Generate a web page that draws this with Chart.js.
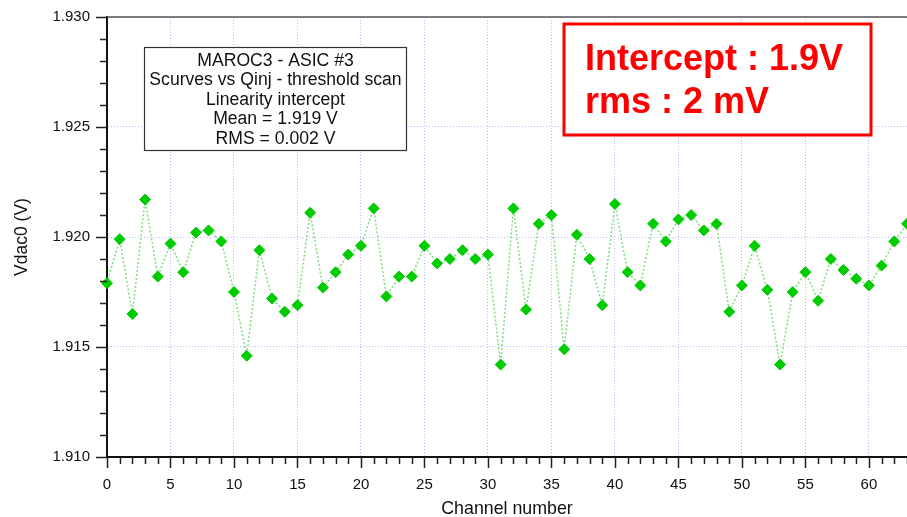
<!DOCTYPE html>
<html>
<head>
<meta charset="utf-8">
<script src="https://cdn.jsdelivr.net/npm/chart.js@4.4.0/dist/chart.umd.min.js"></script>
<style>
  html, body { margin: 0; padding: 0; background: #fff; }
  #wrap { width: 907px; height: 517px; }
</style>
</head>
<body>
<div id="wrap"><canvas id="scan"></canvas></div>
<script>
const channels = [0, 1, 2, 3, 4, 5, 6, 7, 8, 9, 10, 11, 12, 13, 14, 15,
    16, 17, 18, 19, 20, 21, 22, 23, 24, 25, 26, 27, 28, 29, 30, 31,
    32, 33, 34, 35, 36, 37, 38, 39, 40, 41, 42, 43, 44, 45, 46, 47,
    48, 49, 50, 51, 52, 53, 54, 55, 56, 57, 58, 59, 60, 61, 62, 63];
const vdac0 = [1.9179, 1.9199, 1.9165, 1.9217, 1.9182, 1.9197, 1.9184, 1.9202,
    1.9203, 1.9198, 1.9175, 1.9146, 1.9194, 1.9172, 1.9166, 1.9169,
    1.9211, 1.9177, 1.9184, 1.9192, 1.9196, 1.9213, 1.9173, 1.9182,
    1.9182, 1.9196, 1.9188, 1.9190, 1.9194, 1.9190, 1.9192, 1.9142,
    1.9213, 1.9167, 1.9206, 1.9210, 1.9149, 1.9201, 1.9190, 1.9169,
    1.9215, 1.9184, 1.9178, 1.9206, 1.9198, 1.9208, 1.9210, 1.9203,
    1.9206, 1.9166, 1.9178, 1.9196, 1.9176, 1.9142, 1.9175, 1.9184,
    1.9171, 1.9190, 1.9185, 1.9181, 1.9178, 1.9187, 1.9198, 1.9206];
const xTicks = [0, 5, 10, 15, 20, 25, 30, 35, 40, 45, 50, 55, 60];
const yTicks = [1.910, 1.915, 1.920, 1.925, 1.930];
const statLines = ['MAROC3 - ASIC #3', 'Scurves vs Qinj - threshold scan',
    'Linearity intercept', 'Mean = 1.919 V', 'RMS = 0.002 V'];
const summaryLines = ['Intercept : 1.9V', 'rms : 2 mV'];

const FONT = 'Arial, "Liberation Sans", sans-serif';

// no extra room for overhanging tick labels
function noPadding(scale) {
    scale.paddingLeft = 0;
    scale.paddingRight = 0;
    scale.paddingTop = 0;
    scale.paddingBottom = 0;
}

// axis frame, minor ticks and the two text boxes
const framePlugin = {
    id: 'frame',
    afterDraw(chart) {
        const ctx = chart.ctx;
        const a = chart.chartArea;
        const x = chart.scales.x, y = chart.scales.y;
        ctx.save();
        ctx.lineWidth = 1.5;
        // top frame line
        ctx.beginPath();
        ctx.moveTo(a.left, a.top);
        ctx.lineTo(a.right, a.top);
        ctx.strokeStyle = '#555';
        ctx.stroke();
        ctx.strokeStyle = '#222';
        // x ticks, one per channel, longer every 5
        ctx.beginPath();
        for (let c = 0; c <= 63; c++) {
            const px = Math.round(x.getPixelForValue(c)) + 0.5;
            const len = c % 5 === 0 ? 11 : 7;
            ctx.moveTo(px, a.bottom);
            ctx.lineTo(px, a.bottom + len);
        }
        // y ticks every mV
        for (let k = 0; k <= 20; k++) {
            const py = Math.round(y.getPixelForValue(1.910 + k * 0.001)) + 0.5;
            const len = k % 5 === 0 ? 11 : 7;
            ctx.moveTo(a.left, py);
            ctx.lineTo(a.left - len, py);
        }
        ctx.stroke();

        // statistics box
        ctx.fillStyle = '#fff';
        ctx.fillRect(144, 47, 263, 104);
        ctx.lineWidth = 1.2;
        ctx.strokeStyle = '#333';
        ctx.strokeRect(144.5, 47.5, 262, 103);
        ctx.fillStyle = '#111';
        ctx.font = '17.6px ' + FONT;
        ctx.textAlign = 'center';
        ctx.textBaseline = 'middle';
        statLines.forEach((t, i) => ctx.fillText(t, 275.5, 61 + i * 19.5));

        // summary box
        ctx.fillStyle = '#fff';
        ctx.fillRect(563, 23, 309, 113);
        ctx.lineWidth = 3;
        ctx.strokeStyle = '#f00';
        ctx.strokeRect(564, 24, 307, 111);
        ctx.fillStyle = '#f00';
        ctx.font = 'bold 36px ' + FONT;
        ctx.textAlign = 'left';
        ctx.textBaseline = 'alphabetic';
        summaryLines.forEach((t, i) => ctx.fillText(t, 585, 70 + i * 43));
        ctx.restore();
    }
};

new Chart(document.getElementById('scan').getContext('2d'), {
    type: 'line',
    data: {
        datasets: [{
            data: channels.map((c, i) => ({x: c, y: vdac0[i]})),
            borderColor: 'rgba(40, 200, 40, 0.6)',
            borderWidth: 1.5,
            borderDash: [2, 2],
            pointStyle: 'rectRot',
            pointRadius: 5.5,
            pointBorderWidth: 1,
            pointBackgroundColor: '#00cc00',
            pointBorderColor: '#00cc00',
            tension: 0,
            clip: 8
        }]
    },
    options: {
        responsive: true,
        maintainAspectRatio: false,
        animation: false,
        layout: { autoPadding: false, padding: { top: 17, right: 0, left: 0, bottom: 0 } },
        plugins: {
            legend: { display: false },
            tooltip: { enabled: false }
        },
        scales: {
            x: {
                type: 'linear',
                min: 0,
                max: 63,
                afterBuildTicks: (scale) => { scale.ticks = xTicks.map(v => ({value: v})); },
                afterFit: (scale) => { scale.height = 60; noPadding(scale); },
                ticks: {
                    color: '#111',
                    font: { size: 15, family: FONT },
                    padding: 19,
                    maxRotation: 0,
                    callback: (v) => String(v)
                },
                grid: { color: 'rgba(170, 170, 255, 0.8)', lineWidth: 1, drawTicks: false },
                border: { color: '#111', width: 2, dash: [1, 2] },
                title: {
                    display: true,
                    text: 'Channel number',
                    color: '#111',
                    font: { size: 17.8, family: FONT },
                    padding: { top: 0, bottom: -3 }
                }
            },
            y: {
                min: 1.910,
                max: 1.930,
                afterBuildTicks: (scale) => { scale.ticks = yTicks.map(v => ({value: v})); },
                afterFit: (scale) => { scale.width = 107; noPadding(scale); },
                ticks: {
                    color: '#111',
                    font: { size: 15, family: FONT },
                    padding: 17,
                    callback: (v) => v.toFixed(3)
                },
                grid: { color: 'rgba(170, 170, 255, 0.8)', lineWidth: 1, drawTicks: false },
                border: { color: '#111', width: 2, dash: [1, 2] },
                title: {
                    display: true,
                    text: 'Vdac0 (V)',
                    color: '#111',
                    font: { size: 17.5, family: FONT },
                    padding: { top: 12, bottom: 0 }
                }
            }
        }
    },
    plugins: [framePlugin]
});
</script>
</body>
</html>
